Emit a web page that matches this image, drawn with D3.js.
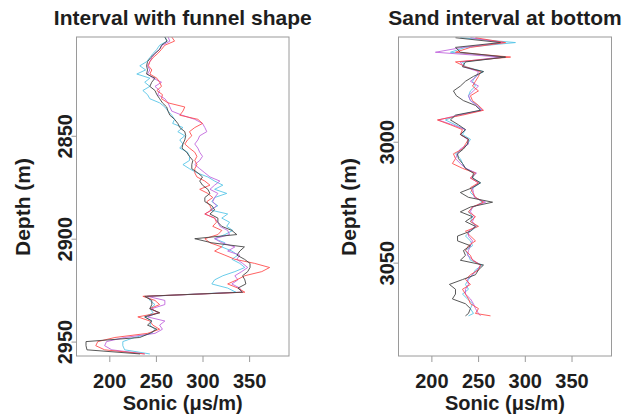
<!DOCTYPE html>
<html>
<head>
<meta charset="utf-8">
<script src="https://cdn.jsdelivr.net/npm/d3@7"></script>
<style>
  body { margin: 0; background: #fff; }
  svg { display: block; }
  text { font-family: "Liberation Sans", Arial, Helvetica, sans-serif; font-weight: bold; fill: #1e1e1e; }
</style>
</head>
<body>
<svg id="chart" width="638" height="414"></svg>
<script>
// ---- axis ticks and labels ----
const sonicTicks = [200, 250, 300, 350];
const leftDepthTicks = [2850, 2900, 2950];
const rightDepthTicks = [3000, 3050];
const titles = ["Interval with funnel shape", "Sand interval at bottom"];
const xLabel = "Sonic (\u03bcs/m)";
const yLabel = "Depth (m)";
const seriesNames = ["cyan", "magenta", "red", "black"];

// ---- upper interval (funnel shape) ----
const leftDepth = [2802,2804,2806,2808,2810,2812,2814,2816,2818,2820,2822,2824,2826,2828,2830,2832,2834,2836,2838,2840,
  2842,2844,2846,2848,2850,2852,2854,2856,2858,2860,2862,2864,2866,2868,2870,2872,2874,2876,2878,2880,
  2882,2884,2886,2888,2890,2892,2894,2896,2898,2900,2902,2904,2906,2908,2910,2912,2914,2916,2918,2920,
  2922,2924,2926,2928,2930,2932,2934,2936,2938,2940,2942,2944,2946,2948,2950,2952,2954,2956];
const leftBlack = [259.6,262,256,254,249,244.5,241,240,241,240,249,245.5,243.5,249,251,254,257,261.5,263,265,
  270,273.5,275.6,281,282,281,279,278,283,286,289.6,288.5,288.5,295,300,297,300,305.7,308,302.5,
  302.5,310,313,308,316.5,316.5,320.7,331.5,336.8,291.7,310,345,340,337,345,351,351,348.5,343,345.4,
  346.5,338,343,238,245.6,245.6,243.5,254,238,245.6,241,251,243.5,232.7,175,175,176,233];
const leftRed = [267,270,259.6,256,252,247,243.5,242,245.6,243.5,251,254,256,251,257,256,263,281,279,275.6,
  295,300,291.7,286,288.5,284,281,286,291.7,294,291.7,294,291.7,291.7,294,302.5,308,297,305.7,311,
  304.6,308,310,302.5,313,315,311,320.7,316.5,302.5,308,320.7,313,324,334.7,356,372,363.6,345.4,336.8,
  327,338,345.4,236,249,254,243.5,254,230.6,243.5,246.7,254,241,206,187.6,185.5,195,238];
const leftCyan = [259.6,262,254,251,247,243.5,240,232.7,239,229.5,243.5,238,243.5,236,241,243.5,254,259.6,263,267,
  270,268,279,273.5,281,275.6,279,275.6,284,286,286,279,286,294,305.7,313,321.8,313,326,313,
  310,316.5,308,327,320.7,329,326,332.5,324,313,324,320.7,331.5,338,331.5,340,345.4,334.7,321.8,313,
  310,327,335.8,241,243.5,249,243.5,247,238,245.6,243.5,249,245.6,227,214.5,214.5,216.5,243.5];
const leftMagenta = [263,265,257,254,249,245.6,243.5,241,243.5,241,247,256,249,254,252,259.6,263,265,267,278,
  291.7,300,302.5,304.6,297,295,291.7,295,297,300,297,291.7,297,302.5,308,318.6,313,308,316.5,313,
  311,315,310,302.5,313,316.5,318.6,327,329,313,320.7,334.7,327,340,336.8,343,348.5,342,334.7,338,
  331.5,340,342,241,259.6,259.6,245.6,252,241,259.6,254,257,249,216.5,197,195,202.7,238];

// ---- lower interval (sand at bottom) ----
const rightDepth = [2957,2959,2961,2963,2965,2967,2969,2971,2973,2975,2977,2979,2981,2983,2985,2987,2989,2991,2993,2995,
  2997,2999,3001,3003,3005,3007,3009,3011,3013,3015,3017,3019,3021,3023,3025,3027,3029,3031,3033,3035,
  3037,3039,3041,3043,3045,3047,3049,3051,3053,3055,3057,3059,3061,3063,3065,3067,3069,3071,3072];
const rightBlack = [225.8,274,225.8,231,279.4,236.5,233.3,255.8,245,236.5,231,223.6,226.8,234.3,247.2,252.6,225.8,220.4,229,236.5,
  231,239.7,238.6,234.3,228,229,233.3,236.5,245,244,252.6,244,231,239.7,265.5,241.8,231,244,236.5,247.2,
  241.8,228,228,241.8,234.3,236.5,231,255.8,250.4,247.2,233.3,219.3,225.8,225.8,222.5,236.5,241.8,239.7,236.5];
const rightRed = [247.2,279.4,241.8,225.8,284.8,225.8,236.5,252.6,250.4,247.2,244,250.4,241.8,244,250.4,255.8,233.3,206.4,220.4,233.3,
  231,239.7,236.5,233.3,223.6,225.8,222.5,233.3,247.2,241.8,250.4,241.8,244,247.2,255.8,244,239.7,247.2,241.8,250.4,
  236.5,241.8,247.2,239.7,236.5,241.8,244,252.6,250.4,241.8,236.5,241.8,233.3,236.5,239.7,241.8,250.4,247.2,263.3];
const rightCyan = [231,290,236.5,220.4,279.4,233.3,236.5,255.8,247.2,244,247.2,241.8,239.7,241.8,250.4,252.6,229,215,225.8,236.5,
  233.3,241.8,238.6,233.3,225.8,231,233.3,236.5,247.2,244,252.6,245,241.8,247.2,254.7,245,239.7,244,241.8,249.3,
  241.8,236.5,241.8,244,236.5,239.7,241.8,254.7,247.2,244,239.7,236.5,239.7,233.3,238.6,244,241.8,245,239.7];
const rightMagenta = [241.8,277.2,233.3,204.3,274,231,234.3,250.4,248.3,241.8,250.4,245,239.7,241.8,248.3,254.7,229,207.5,222.5,236.5,
  231,238.6,239.7,231,228,225.8,231,236.5,248.3,241.8,250.4,244,245,246,258,244,241.8,246,244,247.2,
  239.7,239.7,244,241.8,239.7,238.6,245,252.6,249.3,244,238.6,239.7,236.5,236.5,241.8,245,247.2,250.4,252.6];

// ---- drawing ----
const colors = {
  cyan: "rgba(80,195,230,0.85)",
  magenta: "rgba(190,95,220,0.85)",
  red: "rgba(255,70,70,0.85)",
  black: "rgba(70,70,70,0.9)"
};

const panels = [
  { title: titles[0], depth: leftDepth, depthTicks: leftDepthTicks, depthDomain: [2802, 2957],
    values: { cyan: leftCyan, magenta: leftMagenta, red: leftRed, black: leftBlack },
    box: { x0: 76.5, x1: 289, y0: 37, y1: 356 }, yLabelX: 30 },
  { title: titles[1], depth: rightDepth, depthTicks: rightDepthTicks, depthDomain: [2956.7, 3088.6],
    values: { cyan: rightCyan, magenta: rightMagenta, red: rightRed, black: rightBlack },
    box: { x0: 398.5, x1: 611.5, y0: 37, y1: 356 }, yLabelX: 356 }
];

const svg = d3.select("#chart");
const axisColor = "#9a9a9a";
const intFmt = d3.format("d");

panels.forEach((p, i) => {
  const b = p.box;
  const x = d3.scaleLinear().domain([164.8, 392.8]).range([b.x0, b.x1]);
  const y = d3.scaleLinear().domain(p.depthDomain).range([b.y0, b.y1]);

  const clipId = "clip" + i;
  svg.append("clipPath").attr("id", clipId)
    .append("rect").attr("x", b.x0).attr("y", b.y0 - 2)
    .attr("width", b.x1 - b.x0).attr("height", b.y1 - b.y0 + 2);

  const g = svg.append("g").attr("clip-path", `url(#${clipId})`);
  const line = d3.line().x(d => x(d[0])).y(d => y(d[1]));
  seriesNames.forEach(name => {
    const pts = p.values[name].map((v, k) => [v, p.depth[k]]);
    g.append("path").datum(pts)
      .attr("d", line)
      .attr("fill", "none")
      .attr("stroke", colors[name])
      .attr("stroke-width", 1)
      .attr("stroke-linejoin", "round");
  });

  // frame
  svg.append("rect")
    .attr("x", b.x0).attr("y", b.y0)
    .attr("width", b.x1 - b.x0).attr("height", b.y1 - b.y0)
    .attr("fill", "none").attr("stroke", axisColor).attr("stroke-width", 1);

  // bottom axis
  const xa = svg.append("g").attr("transform", `translate(0,${b.y1})`)
    .call(d3.axisBottom(x).tickValues(sonicTicks).tickFormat(intFmt).tickSize(6).tickSizeOuter(0));
  xa.select(".domain").remove();
  xa.selectAll("line").attr("stroke", axisColor);
  xa.selectAll("text").attr("font-size", 20).attr("dy", null).attr("y", 32).attr("fill", "#1e1e1e");

  // left axis, labels parallel to the axis
  const ya = svg.append("g").attr("transform", `translate(${b.x0},0)`)
    .call(d3.axisLeft(y).tickValues(p.depthTicks).tickFormat(intFmt).tickSize(5).tickSizeOuter(0));
  ya.select(".domain").remove();
  ya.selectAll("line").attr("stroke", axisColor);
  ya.selectAll("text")
    .attr("font-size", 20).attr("fill", "#1e1e1e")
    .attr("x", 0).attr("y", -5).attr("dy", null)
    .attr("text-anchor", "middle")
    .attr("transform", "rotate(-90)");

  // titles and axis labels
  const cx = (b.x0 + b.x1) / 2;
  svg.append("text").attr("x", cx).attr("y", 25)
    .attr("text-anchor", "middle").attr("font-size", 21).text(p.title);
  svg.append("text").attr("x", cx).attr("y", 410)
    .attr("text-anchor", "middle").attr("font-size", 20).text(xLabel);
  svg.append("text")
    .attr("transform", `translate(${p.yLabelX},207) rotate(-90)`)
    .attr("text-anchor", "middle").attr("font-size", 21).text(yLabel);
});
</script>
</body>
</html>
